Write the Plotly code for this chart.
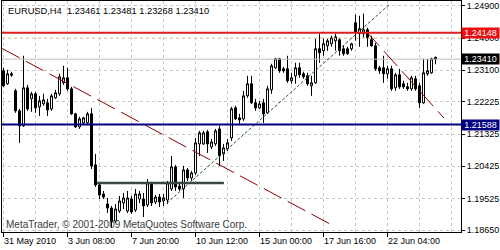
import plotly.graph_objects as go

# ---------------- data (EURUSD H4) ----------------
open_ = [1.23087, 1.22724, 1.22961, 1.22529, 1.21971, 1.21552, 1.22612, 1.22305, 1.22445, 1.22082,
         1.22166, 1.22194, 1.22026, 1.22333, 1.22445, 1.22752, 1.22891, 1.22584, 1.21887, 1.21524,
         1.21636, 1.21636, 1.21887, 1.20464, 1.19906, 1.19655, 1.19376, 1.19264, 1.18902, 1.19181,
         1.19404, 1.19181, 1.19515, 1.19208, 1.19515, 1.19515, 1.19348, 1.19934, 1.19432, 1.19571,
         1.19460, 1.19487, 1.19794, 1.20408, 1.19878, 1.19794, 1.20324, 1.20101, 1.20241, 1.21050,
         1.21050, 1.21385, 1.20966, 1.21050, 1.21468, 1.20771, 1.20910, 1.21217, 1.22054, 1.21775,
         1.21747, 1.22389, 1.22724, 1.22194, 1.22054, 1.22194, 1.21915, 1.22556, 1.23170, 1.23421,
         1.23142, 1.23142, 1.22808, 1.22947, 1.23170, 1.23003, 1.22947, 1.22668, 1.22752, 1.23700,
         1.23645, 1.23784, 1.23840, 1.23924, 1.23951, 1.23700, 1.23700, 1.23700, 1.24426, 1.24119,
         1.24119, 1.24230, 1.23951, 1.23784, 1.23170, 1.23170, 1.23003, 1.23142, 1.22612, 1.22975,
         1.22724, 1.22640, 1.22584, 1.22863, 1.22668, 1.22194, 1.23003, 1.23031, 1.23461]

high = [1.23170, 1.23114, 1.23059, 1.22584, 1.22026, 1.23505, 1.22696, 1.22501, 1.22501, 1.22389,
        1.22445, 1.22305, 1.22445, 1.22556, 1.23003, 1.23226, 1.23170, 1.22640, 1.21915, 1.21803,
        1.21803, 1.21943, 1.22054, 1.20771, 1.19962, 1.19739, 1.19543, 1.19320, 1.19376, 1.19599,
        1.19683, 1.19739, 1.19599, 1.19794, 1.19739, 1.19683, 1.20073, 1.19990, 1.19627, 1.19655,
        1.19655, 1.20018, 1.20715, 1.20464, 1.19990, 1.20436, 1.20380, 1.20297, 1.21217, 1.21413,
        1.21413, 1.21440, 1.21189, 1.21468, 1.21552, 1.21050, 1.21189, 1.22082, 1.22110, 1.21887,
        1.22529, 1.22947, 1.22947, 1.22305, 1.22250, 1.22305, 1.22668, 1.23282, 1.23449, 1.23449,
        1.23198, 1.23505, 1.23031, 1.23310, 1.23310, 1.23059, 1.23031, 1.22947, 1.23979, 1.24119,
        1.23979, 1.23979, 1.24063, 1.24119, 1.24007, 1.23784, 1.23756, 1.23868, 1.24649, 1.24621,
        1.24677, 1.24286, 1.24063, 1.23868, 1.23226, 1.23505, 1.23226, 1.23226, 1.23031, 1.23142,
        1.22808, 1.22752, 1.22947, 1.22947, 1.22752, 1.23421, 1.23421, 1.23449, 1.23481]

low = [1.22640, 1.22696, 1.22919, 1.21915, 1.21078, 1.21524, 1.21971, 1.21943, 1.21915, 1.21831,
       1.22110, 1.21831, 1.21971, 1.22305, 1.22389, 1.22696, 1.22529, 1.21859, 1.21496, 1.21468,
       1.21580, 1.21608, 1.20352, 1.19850, 1.19515, 1.19515, 1.19125, 1.18706, 1.18846, 1.19125,
       1.19236, 1.19125, 1.19097, 1.19153, 1.19404, 1.19013, 1.19292, 1.19320, 1.19376, 1.19292,
       1.19320, 1.19376, 1.19739, 1.19739, 1.19739, 1.19543, 1.20018, 1.20018, 1.20185, 1.20715,
       1.21022, 1.20799, 1.20910, 1.20994, 1.20436, 1.20576, 1.20855, 1.21134, 1.21719, 1.21608,
       1.21692, 1.22333, 1.22166, 1.21971, 1.22026, 1.21636, 1.21887, 1.22445, 1.23142, 1.23031,
       1.23031, 1.22752, 1.22724, 1.22724, 1.22891, 1.22863, 1.22668, 1.22389, 1.22724, 1.23310,
       1.23505, 1.23645, 1.23756, 1.23645, 1.23505, 1.23505, 1.23533, 1.23645, 1.23924, 1.23756,
       1.24007, 1.23756, 1.23756, 1.23087, 1.23003, 1.22752, 1.22863, 1.22529, 1.22529, 1.22584,
       1.22584, 1.22529, 1.22529, 1.22529, 1.22054, 1.22166, 1.22947, 1.23003, 1.23268]

close = [1.22668, 1.23003, 1.23003, 1.21971, 1.21552, 1.22612, 1.22026, 1.22445, 1.22054, 1.22250,
         1.22277, 1.21998, 1.22389, 1.22473, 1.22919, 1.22891, 1.22584, 1.21887, 1.21524, 1.21747,
         1.21775, 1.21887, 1.20436, 1.19906, 1.19627, 1.19571, 1.19264, 1.18874, 1.19236, 1.19460,
         1.19543, 1.19543, 1.19153, 1.19655, 1.19655, 1.19320, 1.19962, 1.19404, 1.19571, 1.19432,
         1.19543, 1.19962, 1.20408, 1.19850, 1.19794, 1.20324, 1.20101, 1.20241, 1.21078, 1.21357,
         1.21357, 1.21050, 1.21106, 1.21413, 1.20715, 1.20938, 1.21078, 1.22026, 1.21747, 1.21719,
         1.22389, 1.22724, 1.22194, 1.22054, 1.22166, 1.21887, 1.22584, 1.23226, 1.23421, 1.23087,
         1.23087, 1.22808, 1.22891, 1.23170, 1.22975, 1.22919, 1.22724, 1.22752, 1.23700, 1.23589,
         1.23840, 1.23924, 1.24007, 1.24035, 1.23645, 1.23561, 1.23561, 1.23840, 1.24147, 1.24258,
         1.24230, 1.24007, 1.23784, 1.23142, 1.23087, 1.23003, 1.23142, 1.22584, 1.22975, 1.22640,
         1.22640, 1.22584, 1.22891, 1.22584, 1.22194, 1.23031, 1.23087, 1.23421, 1.23410]

bars = list(range(len(close)))

time_tick_bars = [0, 16, 32, 48, 64, 80, 96]
time_tick_labels = ["31 May 2010", "3 Jun 08:00", "7 Jun 20:00", "10 Jun 12:00",
                    "15 Jun 00:00", "17 Jun 16:00", "22 Jun 04:00"]

price_ticks = [1.24900, 1.24000, 1.23100, 1.22225, 1.21325, 1.20425, 1.19525, 1.18650]
price_tick_labels = ["1.24900", "1.24000", "1.23100", "1.22225", "1.21325", "1.20425", "1.19525", "1.18650"]

resistance_level = 1.24148
support_level = 1.21588
bid_level = 1.23410
dotted_level = 1.24000

red_trend_x = [-0.375, 82.1]
red_trend_y = [1.23709, 1.18790]
red_trend2_x = [90.6, 110.1]
red_trend2_y = [1.24195, 1.21771]
green_trend_x = [40.8, 96.6]
green_trend_y = [1.19395, 1.24947]
range_line_x = [23.4, 55.1]
range_line_y = [1.19960, 1.19960]

title_text = "EURUSD,H4  1.23461 1.23481 1.23268 1.23410"
watermark = "MetaTrader, © 2001-2009 MetaQuotes Software Corp."

x_range = [-0.375, 114.375]
y_range = [1.185953, 1.250309]

FONT = "Liberation Sans"

# ---------------- figure ----------------
fig = go.Figure()

fig.add_trace(go.Candlestick(
    x=bars, open=open_, high=high, low=low, close=close,
    increasing=dict(line=dict(color="black", width=1), fillcolor="white"),
    decreasing=dict(line=dict(color="black", width=1), fillcolor="black"),
    whiskerwidth=0, hoverinfo="skip", showlegend=False,
))

full_x = x_range

def hline(y, color, width, dash="solid"):
    fig.add_trace(go.Scatter(x=full_x, y=[y, y], mode="lines",
                             line=dict(color=color, width=width, dash=dash),
                             hoverinfo="skip", showlegend=False))

hline(dotted_level, "#e6dca0", 1, "3px,3px")
hline(bid_level, "#bdbdbd", 1)

fig.add_trace(go.Scatter(x=red_trend_x, y=red_trend_y, mode="lines",
                         line=dict(color="#8b0000", width=1, dash="20px,7px"),
                         hoverinfo="skip", showlegend=False))
fig.add_trace(go.Scatter(x=red_trend2_x, y=red_trend2_y, mode="lines",
                         line=dict(color="#8b0000", width=1, dash="20px,7px"),
                         hoverinfo="skip", showlegend=False))
fig.add_trace(go.Scatter(x=green_trend_x, y=green_trend_y, mode="lines",
                         line=dict(color="#1e5a1e", width=1, dash="3px,2px"),
                         hoverinfo="skip", showlegend=False))
fig.add_trace(go.Scatter(x=range_line_x, y=range_line_y, mode="lines",
                         line=dict(color="#3c4646", width=2.5),
                         hoverinfo="skip", showlegend=False))

hline(resistance_level, "#dc1e1e", 2)
hline(support_level, "#000080", 2)

annotations = []
# time labels, left-aligned at their ticks
for b, lab in zip(time_tick_bars, time_tick_labels):
    annotations.append(dict(x=b, xref="x", y=0, yref="paper", text=lab, showarrow=False,
                            xanchor="left", yanchor="middle", xshift=-2, yshift=-8.5,
                            font=dict(family=FONT, size=9, color="black")))
# price boxes on the right axis
for val, bg in [(resistance_level, "#e81010"), (bid_level, "#000000"), (support_level, "#000080")]:
    annotations.append(dict(x=1, xref="paper", y=val, yref="y", text=f"{val:.5f}",
                            showarrow=False, xanchor="left", yanchor="middle",
                            bgcolor=bg, width=37, height=10, align="center", borderpad=0,
                            font=dict(family=FONT, size=9, color="white")))
annotations.append(dict(x=0, xref="paper", y=1, yref="paper", text=title_text, showarrow=False,
                        xanchor="left", yanchor="middle", xshift=4, yshift=-9.5,
                        font=dict(family=FONT, size=9.3, color="black")))
annotations.append(dict(x=0, xref="paper", y=0, yref="paper", text=watermark, showarrow=False,
                        xanchor="left", yanchor="middle", xshift=2, yshift=7.5,
                        font=dict(family=FONT, size=10, color="#3a3a3a")))

fig.update_layout(
    width=500, height=250, autosize=False,
    margin=dict(l=2, r=39, t=1, b=18, pad=0),
    paper_bgcolor="white", plot_bgcolor="white",
    boxgap=0.5, boxgroupgap=0,
    showlegend=False, hovermode=False,
    annotations=annotations,
    xaxis=dict(
        range=x_range, rangeslider=dict(visible=False),
        tickmode="array", tickvals=time_tick_bars, ticktext=[""] * len(time_tick_bars),
        showticklabels=False, ticks="outside", ticklen=4, tickcolor="black", tickwidth=1,
        showgrid=True, gridcolor="#c8c8c8", griddash="3px,3px", gridwidth=1,
        minor=dict(dtick=8, tick0=0, showgrid=True, gridcolor="#c8c8c8", griddash="3px,3px",
                   ticks=""),
        showline=True, linecolor="black", linewidth=1, mirror=True, zeroline=False,
    ),
    yaxis=dict(
        range=y_range, side="right",
        tickmode="array", tickvals=price_ticks, ticktext=price_tick_labels,
        ticks="outside", ticklen=3, tickcolor="black", tickwidth=1,
        tickfont=dict(family=FONT, size=9, color="black"),
        showgrid=True, gridcolor="#c8c8c8", griddash="3px,3px", gridwidth=1,
        showline=True, linecolor="black", linewidth=1, mirror=True, zeroline=False,
    ),
)

fig.write_html("out.html")
